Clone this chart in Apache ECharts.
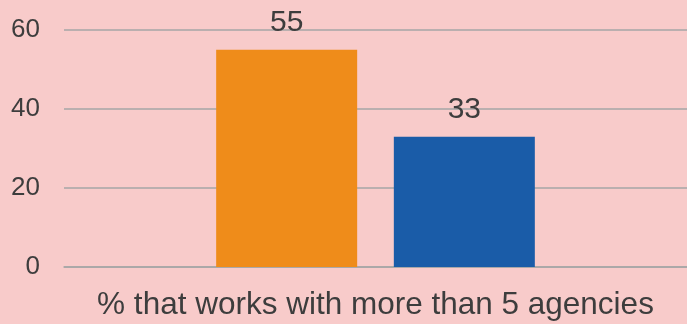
<!DOCTYPE html>
<html><head><meta charset="utf-8">
<script src="https://cdn.jsdelivr.net/npm/echarts@6/dist/echarts.min.js"></script>
<style>html,body{margin:0;padding:0;background:#f8cbca;}#c{width:687px;height:324px;}</style>
</head><body><div id="c"></div>
<script>
const categories = ['% that works with more than 5 agencies'];
const seriesA = [55];
const seriesB = [33];
const yTicks = [0, 20, 40, 60];

const chart = echarts.init(document.getElementById('c'));
const FF = 'Liberation Sans, Arial, sans-serif';
const lbl = {show:true, position:'top', distance:12, color:'#3d3d3d', fontSize:30, fontFamily:FF};
chart.setOption({
  backgroundColor:'#f8cbca',
  animation:false,
  grid:{left:64, right:0, top:30, bottom:57},
  xAxis:{type:'category', data:categories,
    axisLine:{lineStyle:{color:'#a6a6a6', width:1.5}}, axisTick:{show:false},
    axisLabel:{color:'#3d3d3d', fontSize:31.5, fontFamily:FF, margin:22}},
  yAxis:{type:'value', min:yTicks[0], max:yTicks[yTicks.length-1], interval:20,
    axisLine:{show:false}, axisTick:{show:false},
    splitLine:{lineStyle:{color:'#a6a6a6', width:1.5}},
    axisLabel:{color:'#3d3d3d', fontSize:26, fontFamily:FF, margin:24}},
  series:[
    {type:'bar', data:seriesA, barWidth:141, barGap:'26%', itemStyle:{color:'#ef8c1a'}, label:lbl},
    {type:'bar', data:seriesB, barWidth:141, itemStyle:{color:'#1a5ca8'}, label:lbl}
  ]
});
</script></body></html>
